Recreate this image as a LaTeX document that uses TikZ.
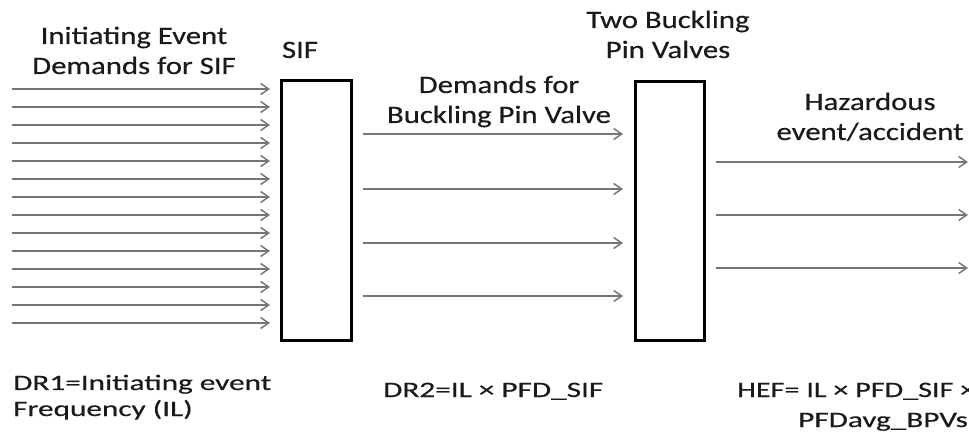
\documentclass[tikz,border=0pt]{standalone}
\usepackage{fontspec}
\setmainfont{Carlito}
\newfontfamily\lblfont{Carlito}[FakeBold=0.4]
\usetikzlibrary{arrows.meta}
\newcommand\st[1]{\scalebox{1.23}[1]{#1}}
\newcommand\stb[1]{\scalebox{1.42}[1]{#1}}
\newcommand\stc[1]{\scalebox{1.37}[1]{#1}}
\definecolor{txt}{HTML}{1A1A1A}
\definecolor{arr}{HTML}{767676}
\begin{document}
\begin{tikzpicture}[x=1pt,y=-1pt,
  box/.style={draw=black,line width=2.7pt,minimum width=70pt,minimum height=260pt,inner sep=0pt},
  toplbl/.style={anchor=base,align=center,inner sep=0pt,text=txt,font=\lblfont\fontsize{25}{30}\selectfont},
  botlbl/.style={anchor=base west,inner sep=0pt,text=txt,font=\lblfont\fontsize{22}{24}\selectfont},
  flow/.style={draw=arr,line width=1.5pt,-{Straight Barb[length=8pt,width=11pt]}}]
\useasboundingbox (0,0) rectangle (969,435);
% boxes
\node[box] (sif) at (316.3,210.3) {};
\node[box,minimum width=69.3pt,minimum height=259pt] (bpv) at (670,210.8) {};
% top labels (anchor base = baseline of the last line)
\node[toplbl] (l1) at (134,74) {\st{Initiating Event}\\\st{Demands for SIF}};
\node[toplbl] (l2) at (300,58) {\st{SIF}};
\node[toplbl] (l3) at (668,58) {\st{Two Buckling}\\\st{Pin Valves}};
\node[toplbl] (l4) at (499,123) {\st{Demands for}\\\st{Buckling Pin Valve}};
\node[toplbl] (l5) at (870,140) {\st{Hazardous}\\\st{event/accident}};
% bottom labels
\node[botlbl] (b1) at (13,390) {\stb{DR1=Initiating event}};
\node[botlbl] (b1b) at (13,416) {\stb{Frequency (IL)}};
\node[botlbl] (b2) at (383,397) {\stb{DR2=IL × PFD\_SIF}};
\node[botlbl] (b3) at (737,397) {\stc{HEF= IL × PFD\_SIF ×}};
\node[botlbl] (b3b) at (798,427) {\stb{PFDavg\_BPVs}};
% input arrows
\foreach \i in {0,...,13}{
  \coordinate (in\i) at (12,89+18*\i);
  \draw[flow,shorten >=10pt] (in\i) -- (sif.west |- in\i);
}
% middle arrows
\foreach \y [count=\i] in {134,189,243,296}{
  \coordinate (m\i) at (500,\y);
  \draw[flow,shorten <=10pt,shorten >=11pt] (sif.east |- m\i) -- (bpv.west |- m\i);
}
% output arrows
\foreach \y [count=\i] in {162,215,268}{
  \coordinate (out\i) at (968,\y);
  \draw[flow,shorten <=10pt] (bpv.east |- out\i) -- (out\i);
}
\end{tikzpicture}
\end{document}
